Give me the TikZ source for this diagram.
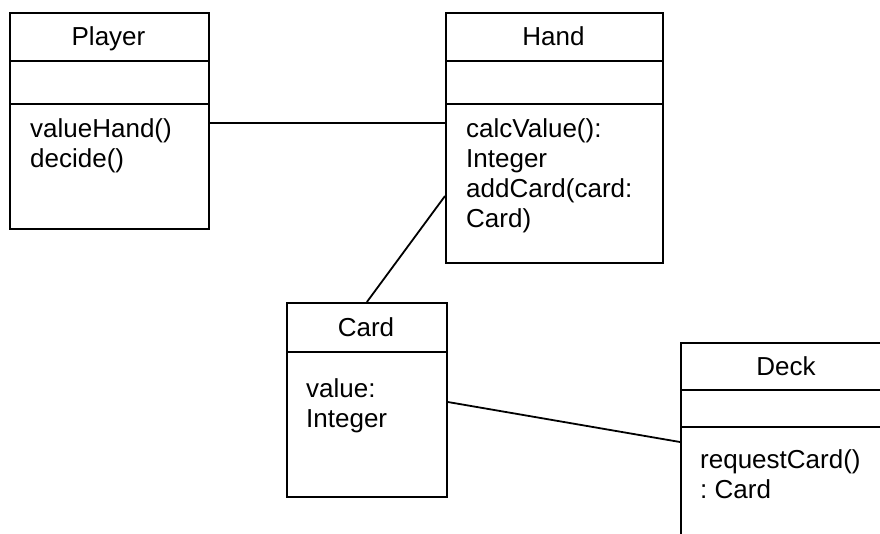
\documentclass[tikz,border=0pt]{standalone}
\usepackage{fontspec}
\setmainfont{Liberation Sans}
\frenchspacing
\begin{document}
\begin{tikzpicture}[x=1pt,y=-1pt,
  classbox/.style={draw, line width=1.8pt, inner sep=0pt, anchor=north west},
  wire/.style={line width=1.8pt},
  classname/.style={anchor=base, inner sep=0pt, font=\fontsize{26}{30}\selectfont},
  member/.style={anchor=base west, inner sep=0pt, font=\fontsize{26}{30}\selectfont}]
\useasboundingbox (0,0) rectangle (880,534);
\fill[white] (0,0) rectangle (880,534);
\clip (0,0) rectangle (880,534);

% class boxes
\node[classbox, minimum width=199pt, minimum height=216pt] (player) at (9,12) {};
\node[classbox, minimum width=217pt, minimum height=250pt] (hand) at (445,12) {};
\node[classbox, minimum width=160pt, minimum height=194pt] (card) at (286,302) {};
\node[classbox, minimum width=212pt, minimum height=230pt] (deck) at (680,342) {};

% compartment dividers
\draw[wire] (player.west |- 0,61) -- (player.east |- 0,61);
\draw[wire] (player.west |- 0,104) -- (player.east |- 0,104);
\draw[wire] (hand.west |- 0,61) -- (hand.east |- 0,61);
\draw[wire] (hand.west |- 0,104) -- (hand.east |- 0,104);
\draw[wire] (card.west |- 0,352) -- (card.east |- 0,352);
\draw[wire] (deck.west |- 0,390) -- (deck.east |- 0,390);
\draw[wire] (deck.west |- 0,427) -- (deck.east |- 0,427);

% class names
\node[classname] (playername) at (108.5,46) {Player};
\node[classname] (handname) at (553.5,46) {Hand};
\node[classname] (cardname) at (366,336) {Card};
\node[classname] (deckname) at (786,375) {Deck};

% operations and attributes
\node[member] (p1) at (30,138) {valueHand()};
\node[member] (p2) at (30,168) {decide()};
\node[member] (h1) at (466,138) {calcValue():};
\node[member] (h2) at (466,168) {Integer};
\node[member] (h3) at (466,198) {addCard(card:};
\node[member] (h4) at (466,228) {Card)};
\node[member] (c1) at (306,397) {value:};
\node[member] (c2) at (306,427) {Integer};
\node[member] (d1) at (700,468) {requestCard()};
\node[member] (d2) at (700,498) {: Card};

% associations
\draw[wire] (player.east |- 0,123) -- (hand.west |- 0,123);
\draw[wire] (card.north) -- (hand.west |- 0,196);
\draw[wire] (card.east |- 0,402) -- (deck.west |- 0,442);
\end{tikzpicture}
\end{document}
